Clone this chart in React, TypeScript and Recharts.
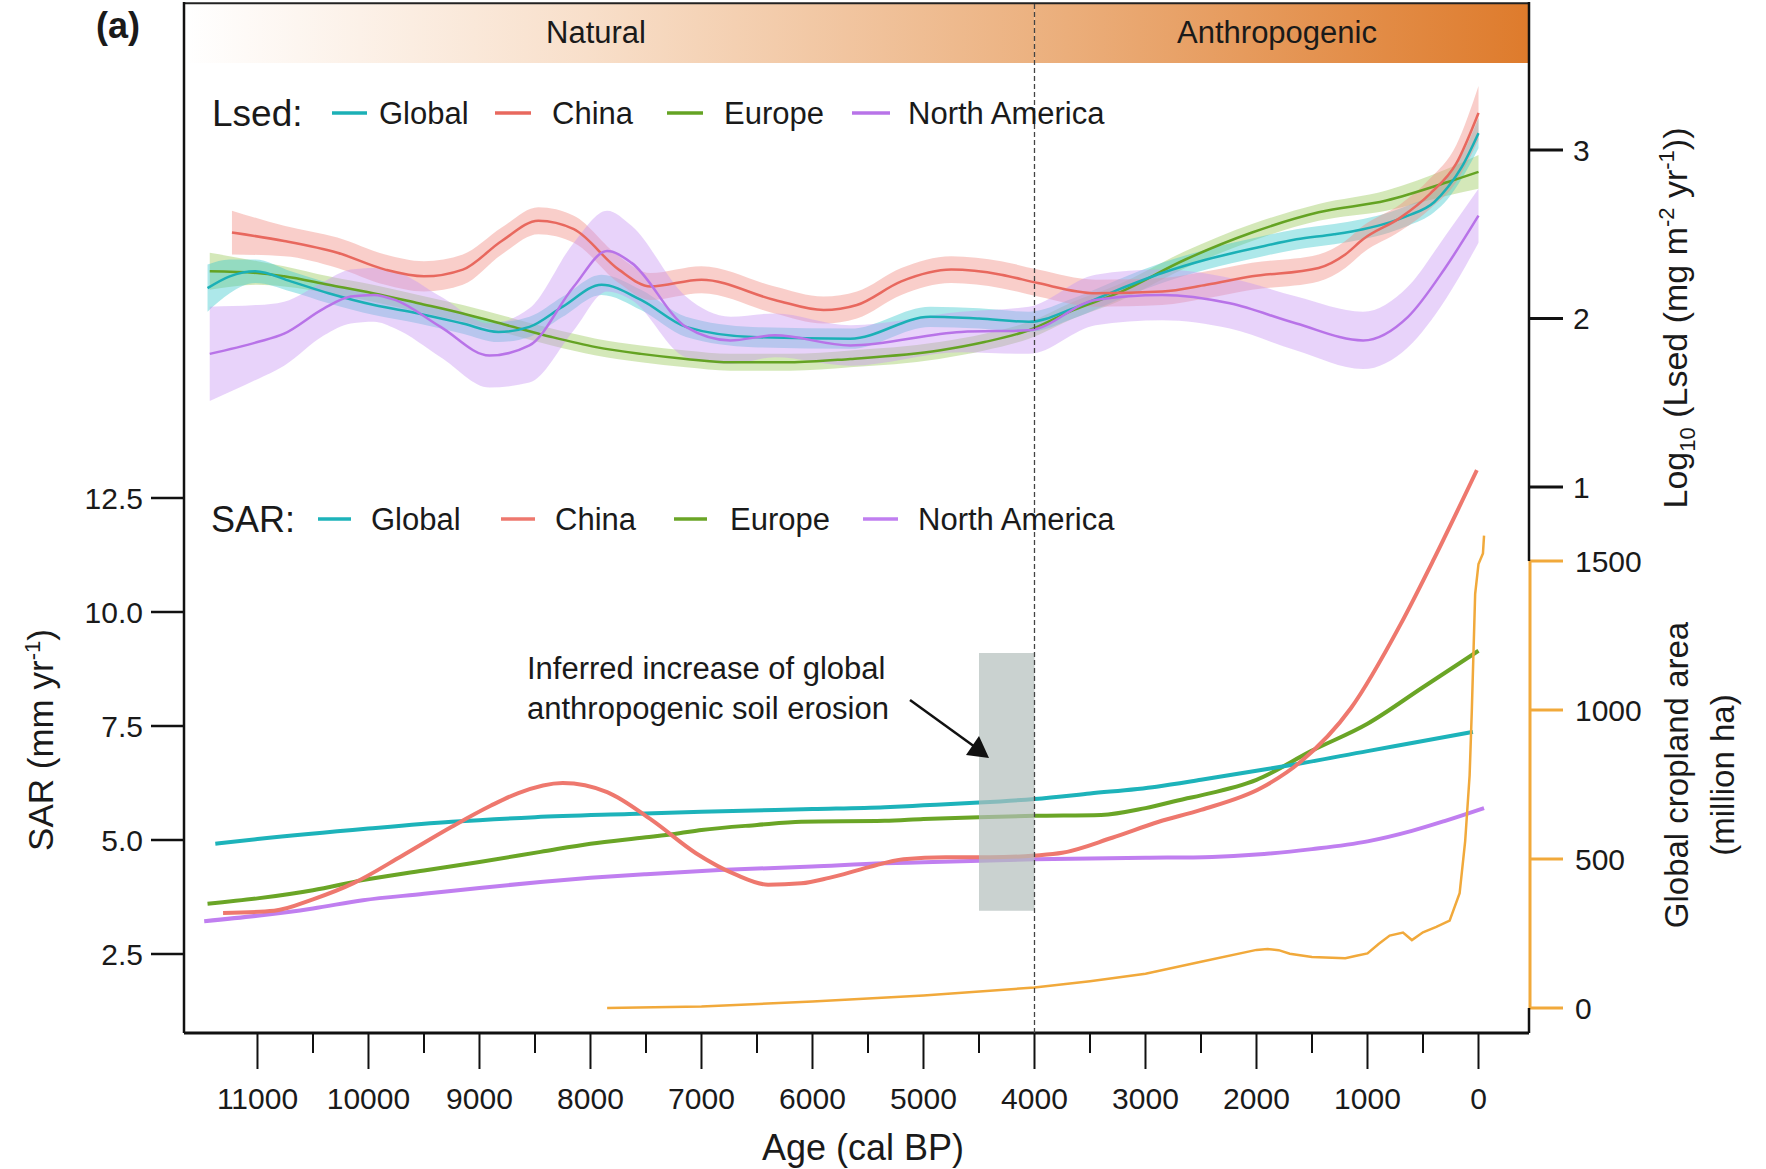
import React from "react";
import {
    ComposedChart,
    Line,
    Area,
    XAxis,
    YAxis,
    ReferenceArea,
    ReferenceLine
} from "recharts";

const FONT = '"Liberation Sans", Arial, Helvetica, sans-serif';

const regions = ["Global", "China", "Europe", "North America"];

// Lsed, log10 (mg m-2 yr-1): [age cal BP, mean, half width of the band]
const lsedGlobal = [
    [11450, 2.18, 0.14], [11250, 2.25, 0.10], [11020, 2.28, 0.07], [10700, 2.22, 0.06],
    [10360, 2.15, 0.06], [9950, 2.08, 0.06], [9550, 2.03, 0.06], [9150, 1.97, 0.06],
    [8830, 1.92, 0.06], [8550, 1.95, 0.06], [8250, 2.07, 0.06], [7900, 2.20, 0.06],
    [7545, 2.11, 0.06], [7140, 1.95, 0.06], [6540, 1.89, 0.06], [5660, 1.88, 0.06],
    [4940, 2.01, 0.06], [4500, 2.00, 0.06], [4050, 1.98, 0.06], [3650, 2.06, 0.06],
    [3250, 2.17, 0.06], [2850, 2.27, 0.06], [2450, 2.35, 0.06], [2000, 2.42, 0.06],
    [1640, 2.47, 0.06], [1300, 2.50, 0.06], [1040, 2.53, 0.06], [800, 2.57, 0.06],
    [635, 2.61, 0.06], [400, 2.69, 0.06], [275, 2.78, 0.07], [150, 2.90, 0.07],
    [0, 3.10, 0.09]
];

const lsedChina = [
    [11230, 2.51, 0.13], [10760, 2.46, 0.09], [10280, 2.39, 0.09], [9850, 2.29, 0.09],
    [9500, 2.25, 0.09], [9150, 2.29, 0.09], [8800, 2.46, 0.08], [8470, 2.58, 0.08],
    [8150, 2.53, 0.08], [7745, 2.29, 0.08], [7460, 2.19, 0.08], [7000, 2.23, 0.08],
    [6340, 2.11, 0.08], [5900, 2.05, 0.08], [5600, 2.08, 0.08], [5200, 2.22, 0.08],
    [4750, 2.29, 0.08], [4300, 2.26, 0.08], [3970, 2.21, 0.08], [3450, 2.15, 0.08],
    [2850, 2.16, 0.08], [2450, 2.20, 0.08], [2040, 2.25, 0.08], [1440, 2.30, 0.08],
    [1200, 2.38, 0.08], [1040, 2.47, 0.08], [700, 2.60, 0.08], [437, 2.74, 0.09],
    [200, 2.92, 0.11], [0, 3.22, 0.16]
];

const lsedEurope = [
    [11430, 2.28, 0.11], [11000, 2.27, 0.07], [10760, 2.25, 0.06], [10360, 2.20, 0.05],
    [9960, 2.15, 0.05], [9550, 2.09, 0.05], [9150, 2.03, 0.05], [8750, 1.96, 0.05],
    [8350, 1.89, 0.05], [7950, 1.83, 0.05], [7545, 1.79, 0.05], [7140, 1.76, 0.05],
    [6740, 1.74, 0.05], [6200, 1.74, 0.05], [5660, 1.76, 0.05], [4860, 1.81, 0.05],
    [4450, 1.86, 0.05], [4050, 1.93, 0.05], [3650, 2.05, 0.05], [3250, 2.15, 0.05],
    [2640, 2.35, 0.05], [2040, 2.51, 0.05], [1440, 2.63, 0.05], [830, 2.70, 0.06],
    [275, 2.81, 0.08], [0, 2.87, 0.10]
];

const lsedNorthAmerica = [
    [11430, 1.79, 0.28], [11000, 1.86, 0.22], [10760, 1.91, 0.19], [10400, 2.06, 0.16],
    [10160, 2.13, 0.16], [9950, 2.14, 0.16], [9760, 2.11, 0.17], [9350, 1.95, 0.18],
    [8910, 1.78, 0.19], [8550, 1.84, 0.22], [8150, 2.19, 0.26], [7850, 2.40, 0.24],
    [7630, 2.33, 0.22], [7140, 1.95, 0.18], [6740, 1.87, 0.14], [6340, 1.90, 0.13],
    [5660, 1.84, 0.12], [4660, 1.92, 0.12], [4050, 1.93, 0.14], [3450, 2.11, 0.15],
    [2850, 2.14, 0.15], [2240, 2.09, 0.15], [1640, 1.97, 0.16], [1040, 1.87, 0.17],
    [635, 2.01, 0.18], [300, 2.30, 0.19], [0, 2.61, 0.16]
];

// SAR (mm yr-1): [age cal BP, value]
const sarGlobal = [
    [11380, 4.92], [11000, 5.02], [10000, 5.25], [9250, 5.40], [8500, 5.50], [7650, 5.57],
    [7000, 5.62], [6000, 5.68], [5350, 5.72], [5000, 5.76], [4500, 5.82], [4000, 5.90],
    [3500, 6.02], [2900, 6.17], [2500, 6.32], [2000, 6.52], [1700, 6.64], [1000, 6.95],
    [500, 7.17], [50, 7.37]
];

const sarChina = [
    [11310, 3.40], [10850, 3.45], [10500, 3.70], [10130, 4.06], [9700, 4.65], [9250, 5.29],
    [8900, 5.75], [8650, 6.03], [8250, 6.25], [7850, 6.05], [7450, 5.44], [7050, 4.71],
    [6700, 4.25], [6400, 4.02], [6100, 4.05], [5850, 4.17], [5500, 4.40], [5180, 4.58],
    [4800, 4.62], [4400, 4.62], [4000, 4.66], [3750, 4.72], [3300, 5.05], [2880, 5.40],
    [2500, 5.66], [1950, 6.15], [1600, 6.72], [1150, 7.89], [700, 9.74], [400, 11.17],
    [15, 13.11]
];

const sarEurope = [
    [11450, 3.60], [11000, 3.72], [10500, 3.90], [10050, 4.12], [9500, 4.33], [9000, 4.52],
    [8450, 4.74], [8000, 4.92], [7500, 5.06], [7200, 5.15], [7000, 5.22], [6500, 5.33],
    [6100, 5.40], [5350, 5.42], [5000, 5.46], [4500, 5.50], [4000, 5.53], [3400, 5.55],
    [3000, 5.70], [2650, 5.90], [2500, 5.98], [2000, 6.32], [1500, 6.96], [1000, 7.55],
    [500, 8.35], [0, 9.15]
];

const sarNorthAmerica = [
    [11480, 3.22], [11000, 3.34], [10500, 3.50], [10050, 3.68], [9500, 3.82], [9000, 3.95],
    [8450, 4.08], [8000, 4.17], [7500, 4.25], [6840, 4.34], [6000, 4.42], [5350, 4.49],
    [5000, 4.51], [4000, 4.58], [3000, 4.61], [2400, 4.63], [2000, 4.68], [1500, 4.80],
    [1000, 4.97], [600, 5.20], [300, 5.42], [-50, 5.70]
];

// global cropland area (million ha): [age cal BP, value]
const cropland = [
    [7850, 0], [7000, 5], [6000, 22], [5000, 42], [4000, 69], [3500, 90], [3000, 115],
    [2500, 155], [2000, 195], [1900, 198], [1800, 194], [1700, 182], [1500, 171],
    [1200, 167], [1100, 175], [1000, 183], [900, 215], [800, 243], [680, 253], [600, 228],
    [500, 254], [380, 272], [260, 293], [170, 385], [120, 560], [80, 780], [60, 1000],
    [30, 1390], [0, 1490], [-40, 1525], [-50, 1585]
];

const ageTicks = [11000, 10500, 10000, 9500, 9000, 8500, 8000, 7500, 7000, 6500, 6000,
    5500, 5000, 4500, 4000, 3500, 3000, 2500, 2000, 1500, 1000, 500, 0];
const sarTicks = [2.5, 5, 7.5, 10, 12.5];
const lsedTicks = [1, 2, 3];
const cropTicks = [0, 500, 1000, 1500];

const withBand = (arr: number[][]) =>
    arr.map(([age, v, e]) => ({ age, v, band: [v - e, v + e] }));
const plain = (arr: number[][]) => arr.map(([age, v]) => ({ age, v }));

const C = {
    teal: "#1bb0b6",
    red: "#e8685e",
    green: "#64a323",
    purple: "#b873e8",
    tealBand: "#3cc9cd",
    redBand: "#f08a80",
    greenBand: "#98c957",
    purpleBand: "#c996f2",
    sarTeal: "#1db3ba",
    sarRed: "#ee786e",
    sarGreen: "#6aa526",
    sarPurple: "#c07ff0",
    orange: "#f1a93b"
};

const lsedSeries = [
    { name: regions[2], rows: withBand(lsedEurope), line: C.green, band: C.greenBand },
    { name: regions[0], rows: withBand(lsedGlobal), line: C.teal, band: C.tealBand },
    { name: regions[1], rows: withBand(lsedChina), line: C.red, band: C.redBand },
    { name: regions[3], rows: withBand(lsedNorthAmerica), line: C.purple, band: C.purpleBand }
];

const sarSeries = [
    { name: regions[3], rows: plain(sarNorthAmerica), line: C.sarPurple },
    { name: regions[2], rows: plain(sarEurope), line: C.sarGreen },
    { name: regions[0], rows: plain(sarGlobal), line: C.sarTeal },
    { name: regions[1], rows: plain(sarChina), line: C.sarRed }
];

function AgeTick(props: any) {
    const { x, y, payload } = props;
    const major = payload.value % 1000 === 0;
    return (
        <g>
            <line x1={x} x2={x} y1={y} y2={y + (major ? 36 : 20)} stroke="#111" strokeWidth={2} />
            {major && (
                <text x={x} y={y + 76} textAnchor="middle" fontSize={30} fontFamily={FONT} fill="#1a1a1a">
                    {payload.value}
                </text>
            )}
        </g>
    );
}

function LegendRow({ y, title, titleX, titleSize, swatches, labels, colors }: any) {
    return (
        <g>
            <text x={titleX} y={y + titleSize * 0.358} fontSize={titleSize}>{title}</text>
            {regions.map((r, i) => (
                <g key={r}>
                    <line x1={swatches[i][0]} x2={swatches[i][1]} y1={y} y2={y} stroke={colors[i]} strokeWidth={3.5} />
                    <text x={labels[i]} y={y + 11} fontSize={31}>{r}</text>
                </g>
            ))}
        </g>
    );
}

function Overlay() {
    return (
        <svg width={1766} height={1169} fontFamily={FONT} fill="#1a1a1a"
            style={{ position: "absolute", left: 0, top: 0, pointerEvents: "none" }}>
            <defs>
                <linearGradient id="hdrGrad" gradientUnits="userSpaceOnUse" x1={184} y1={0} x2={1529} y2={0}>
                    <stop offset="0" stopColor="#ffffff" />
                    <stop offset="0.3" stopColor="#f8dfca" />
                    <stop offset="0.63" stopColor="#ecb281" />
                    <stop offset="1" stopColor="#de7b2c" />
                </linearGradient>
            </defs>

            <text x={96} y={38} fontSize={36} fontWeight="bold">(a)</text>
            <text x={596} y={43} fontSize={31} textAnchor="middle">Natural</text>
            <text x={1277} y={43} fontSize={31} textAnchor="middle">Anthropogenic</text>

            <LegendRow y={113} title="Lsed:" titleX={212} titleSize={37}
                swatches={[[332, 367], [495, 531], [667, 703], [852, 890]]}
                labels={[379, 552, 724, 908]}
                colors={[C.teal, C.red, C.green, C.purple]} />
            <LegendRow y={519} title="SAR:" titleX={211} titleSize={36}
                swatches={[[318, 351], [501, 535], [674, 707], [863, 898]]}
                labels={[371, 555, 730, 918]}
                colors={[C.sarTeal, C.sarRed, C.sarGreen, C.sarPurple]} />

            <text x={527} y={679} fontSize={31}>Inferred increase of global</text>
            <text x={527} y={719} fontSize={31}>anthropogenic soil erosion</text>
            <line x1={910} y1={700} x2={975} y2={747} stroke="#111" strokeWidth={2.5} />
            <polygon points="989,758 966,755 979,736" fill="#111" />

            <text x={863} y={1160} fontSize={36} textAnchor="middle">Age (cal BP)</text>

            <g transform="translate(40,740) rotate(-90)">
                <text x={0} y={12.5} fontSize={35} textAnchor="middle">
                    SAR (mm yr<tspan dy={-13} fontSize={22}>-1</tspan><tspan dy={13}>)</tspan>
                </text>
            </g>
            <g transform="translate(1675,318) rotate(-90)">
                <text x={0} y={12} fontSize={34} textAnchor="middle">
                    Log<tspan dy={8} fontSize={22}>10</tspan>
                    <tspan dy={-8}> (Lsed (mg m</tspan>
                    <tspan dy={-13} fontSize={22}>-2</tspan>
                    <tspan dy={13}> yr</tspan>
                    <tspan dy={-13} fontSize={22}>-1</tspan>
                    <tspan dy={13}>))</tspan>
                </text>
            </g>
            <g transform="translate(1676,775) rotate(-90)">
                <text x={0} y={12} fontSize={33} textAnchor="middle">Global cropland area</text>
            </g>
            <g transform="translate(1722,775) rotate(-90)">
                <text x={0} y={12} fontSize={33} textAnchor="middle">(million ha)</text>
            </g>
        </svg>
    );
}

export default function App() {
    const tickStyle = { fontSize: 30, fill: "#1a1a1a", fontFamily: FONT };
    return (
        <div style={{ position: "absolute", left: 0, top: 0, width: 1766, height: 1169, background: "#fff" }}>
            <ComposedChart width={1766} height={1169} margin={{ top: 2, right: 0, bottom: 0, left: 0 }}>
                <XAxis type="number" dataKey="age" domain={[-455, 11662]} reversed allowDataOverflow
                    ticks={ageTicks} interval={0} height={136} tickSize={0} tickMargin={0}
                    tickLine={false} tick={<AgeTick />}
                    axisLine={{ stroke: "#111", strokeWidth: 3 }} />
                <YAxis yAxisId="sar" orientation="left" width={184} domain={[0.768, 23.377]}
                    allowDataOverflow ticks={sarTicks} interval={0} tickSize={33} tickMargin={8}
                    tickFormatter={(v: number) => v.toFixed(1)} tick={tickStyle}
                    axisLine={{ stroke: "#111", strokeWidth: 2.5 }}
                    tickLine={{ stroke: "#111", strokeWidth: 2.5 }} />
                <YAxis yAxisId="b_crop" orientation="right" width={236} domain={[-83.9, 3375.8]}
                    allowDataOverflow ticks={cropTicks} interval={0} tickSize={33} tickMargin={12}
                    tick={tickStyle}
                    axisLine={{ stroke: C.orange, strokeWidth: 3, strokeDasharray: "0 559 447 3000" }}
                    tickLine={{ stroke: C.orange, strokeWidth: 3 }} />
                <YAxis yAxisId="a_lsed" orientation="right" width={1} domain={[-2.24, 3.878]}
                    allowDataOverflow ticks={lsedTicks} interval={0} tickSize={34} tickMargin={10}
                    tick={tickStyle}
                    axisLine={{ stroke: "#111", strokeWidth: 2.5, strokeDasharray: "559 447 3000" }}
                    tickLine={{ stroke: "#111", strokeWidth: 3 }} />

                <ReferenceArea yAxisId="a_lsed" x1={11662} x2={4000} y1={3.516} y2={3.87}
                    fill="url(#hdrGrad)" fillOpacity={1} stroke="none" />
                <ReferenceArea yAxisId="a_lsed" x1={4000} x2={-455} y1={3.516} y2={3.87}
                    fill="url(#hdrGrad)" fillOpacity={1} stroke="none" />
                <ReferenceLine yAxisId="sar" y={23.35} stroke="#222" strokeWidth={2} />

                {lsedSeries.map((s) => (
                    <Area key={"band-" + s.name} data={s.rows} dataKey="band" yAxisId="a_lsed"
                        type="monotone" stroke="none" fill={s.band} fillOpacity={0.42}
                        dot={false} activeDot={false} isAnimationActive={false} />
                ))}
                {lsedSeries.map((s) => (
                    <Line key={"lsed-" + s.name} data={s.rows} dataKey="v" yAxisId="a_lsed"
                        type="monotone" stroke={s.line} strokeWidth={2.5}
                        dot={false} activeDot={false} isAnimationActive={false} />
                ))}
                {sarSeries.map((s) => (
                    <Line key={"sar-" + s.name} data={s.rows} dataKey="v" yAxisId="sar"
                        type="monotone" stroke={s.line} strokeWidth={4}
                        dot={false} activeDot={false} isAnimationActive={false} />
                ))}
                <Line data={plain(cropland)} dataKey="v" yAxisId="b_crop" type="linear"
                    stroke={C.orange} strokeWidth={2.5}
                    dot={false} activeDot={false} isAnimationActive={false} />

                <ReferenceArea yAxisId="sar" x1={4500} x2={4000} y1={3.45} y2={9.1}
                    fill="#b4bfbc" fillOpacity={0.7} stroke="none" zIndex={600} />
                <ReferenceLine yAxisId="sar" x={4000} stroke="#444" strokeWidth={1.3}
                    strokeDasharray="5 3" zIndex={700} />
            </ComposedChart>
            <Overlay />
        </div>
    );
}
